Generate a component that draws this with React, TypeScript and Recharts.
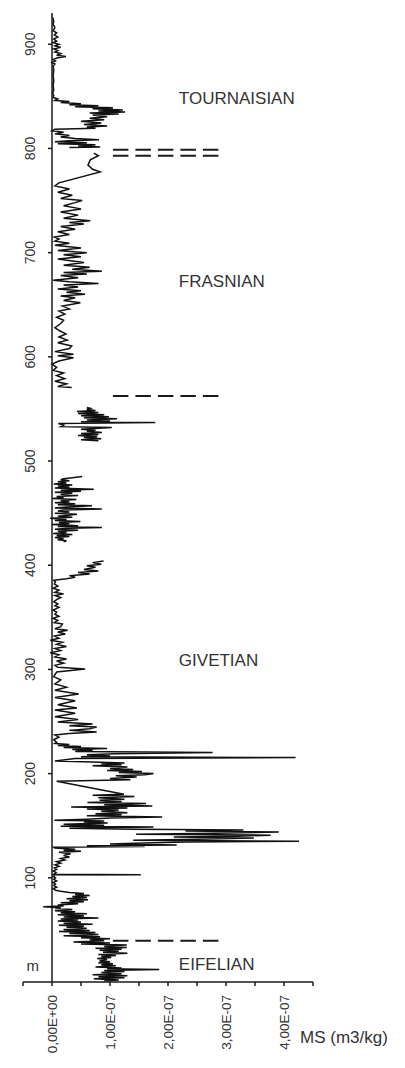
import React from 'react';
import { LineChart, Line, XAxis, YAxis, ReferenceLine, ReferenceDot } from 'recharts';

type Pt = [number, number];

// [depth (m), MS (x 1E-07 m3/kg)]
const EIFELIAN_LOG: Pt[] = [
  [1, 0.9], [2, 1.15], [3, 0.72], [4, 1.25], [5, 0.8], [6, 1.3], [7, 0.7], [8, 1.2], [9, 0.85], [10, 1.25],
  [11, 0.9], [12, 1.85], [12.6, 0.95], [13.5, 1.2], [14.5, 0.75], [15.5, 1.1], [16.5, 0.85], [17.5, 1.05],
  [18.5, 0.8], [19.5, 1.0], [20.5, 0.82], [21.5, 0.95], [22.5, 0.78], [23.5, 1.02], [24.5, 0.85], [25.5, 1.1],
  [26.5, 0.8], [27.5, 1.3], [28.5, 0.88], [29.5, 1.15], [30.5, 0.82], [31.5, 1.2], [32.3, 0.75], [33, 1.29],
  [34, 0.9], [35, 1.1], [35.5, 1.29], [36.5, 0.5], [37.5, 1.0], [38.5, 0.37], [39.5, 0.9],
];

const GIVETIAN_LOG_1: Pt[] = [
  [40.5, 0.65], [41.5, 1.0], [42.5, 0.5], [43.5, 0.83], [44.5, 0.2], [45.5, 0.8], [46.5, 0.3], [47.5, 0.75],
  [48.5, 0.12], [49.5, 0.65], [50.5, 0.2], [51.5, 0.6], [52.5, 0.25], [53.5, 0.55], [54.5, 0.12], [55.5, 0.7],
  [56.5, 0.2], [57.5, 0.5], [58.5, 0.1], [59.5, 0.45], [60.5, 0.15], [61.5, 0.8], [62.5, 0.2], [63.5, 0.55],
  [64.5, 0.1], [65.5, 0.6], [66.5, 0.15], [67.5, 0.4], [68.5, 0.05], [69.5, 0.35], [70.5, 0.05], [71.3, 0.15],
  [72.2, -0.15], [73, 0.2], [74, 0.1], [75, 0.45], [76, 0.15], [77, 0.55], [78, 0.3], [79, 0.62], [80, 0.25],
  [81, 0.6], [82, 0.35], [83, 0.65], [84, 0.4], [85, 0.55], [86, 0.3], [87, 0.15], [88, 0.06],
  [89.5, 0.02], [91, 0.08], [92.5, 0.03], [94, 0.06], [95.5, 0.02], [97, 0.08], [98.5, 0.03], [100, 0.06],
  [101.5, 0.02], [102.6, 0.05], [103, 1.53], [103.4, 0.03], [105, 0.07], [106.5, 0.02], [108, 0.08],
  [109.5, 0.04], [111, 0.12], [112.5, 0.05], [114, 0.15], [115.5, 0.08], [117, 0.22], [118.5, 0.15],
  [120, 0.3], [121.5, 0.2], [123, 0.32], [124.5, 0.12], [125.5, 0.5], [126.5, 0.2], [127.5, 0.4],
  [128.5, 0.05], [129.3, 0.03],
  [130, 1.6], [130.8, 0.6], [131.6, 2.15], [132.5, 1.0], [133.4, 1.58], [134.3, 2.3], [135.2, 4.26],
  [136, 1.4], [137, 2.5], [138.2, 3.48], [139.1, 2.1], [140, 3.2], [140.9, 3.77], [141.8, 1.45],
  [142.8, 2.8], [144, 3.91], [145, 2.3], [145.8, 3.3], [146.6, 1.42], [147.6, 0.3], [148.8, 1.75],
  [149.6, 0.15],
  [150.5, 0.9], [151.5, 0.2], [152.5, 0.96], [153.5, 0.55], [154.5, 0.9], [155.3, 0.04], [156.3, 0.6],
  [157.3, 1.0], [158.4, 1.9], [159.5, 0.6], [160.5, 1.2], [161.5, 0.75], [162.5, 1.3], [163.9, 0.85],
  [165, 1.15], [166, 0.6], [167, 1.3], [168, 0.33], [169, 1.73], [170, 0.9], [171.2, 1.62], [172.2, 0.61],
  [173.3, 1.2], [174.4, 0.82], [175.5, 1.25], [176.8, 0.8], [178, 1.42], [179.2, 0.7], [180.2, 1.24],
  [192.6, 0.08],
  [194, 1.35], [195.3, 1.0], [196.8, 1.46], [198, 1.1], [199, 1.6], [200, 1.75], [201, 1.15], [202, 1.55],
  [203, 0.95], [204, 1.4], [205, 1.0], [206.4, 1.3], [207.5, 0.7], [208.5, 1.2], [209.5, 0.85], [210.3, 1.25],
  [211.2, 0.7], [212, 0.05], [214.5, 0.4], [215.4, 4.2], [216.2, 0.5], [217, 1.0], [218, 0.6], [219, 1.1],
  [220.2, 2.77], [221.2, 0.4], [222.4, 0.7], [223.2, 0.35], [224, 0.95], [225, 0.2], [226, 0.5], [227, 0.1],
  [228, 0.3], [229, 0.05],
  [230, 0.08], [232.5, 0.03], [235, 0.12], [237, 0.05], [238.5, 0.3], [240, 0.77], [241.5, 0.3], [243, 0.65],
  [244.7, 0.77], [246, 0.3], [247.5, 0.7], [249.5, 0.1], [252, 0.45], [254.5, 0.05], [258, 0.4], [261, 0.05],
  [263, 0.43], [266, 0.1], [270, 0.4], [273, 0.05], [276.5, 0.46], [280, 0.05], [283, 0.25], [286, 0.05],
  [290, 0.15], [293, 0.03], [297.5, 0.08], [300.5, 0.57], [302, 0.1],
  [304, 0.05], [306, 0.2], [308, 0.08], [310, 0.25], [312, 0.05], [314, 0.12], [316, -0.03], [318, 0.15],
  [320, 0.05], [322, 0.25], [324, 0.08], [326, 0.18], [328, -0.03], [330, 0.12], [332, 0.04], [334, 0.23],
  [336, 0.1], [337.5, 0.27], [339, 0.05], [341, 0.15], [343.5, 0.18], [345, 0.04], [347, 0.1], [349, 0.02],
  [351, 0.12], [353, 0.05], [355, 0.08], [357, 0.02], [359.5, 0.12], [361, 0.05], [363, 0.1], [365, 0.03],
  [367, 0.08], [369, 0.15], [371, 0.05], [372.5, 0.2], [374, 0.05], [376, 0.12], [378, 0.02], [380, 0.1],
  [382, 0.04], [384, 0.06], [385.5, 0.03], [387, 0.25], [388.5, 0.4], [390, 0.3], [391.5, 0.65], [393, 0.45],
  [394.5, 0.8], [396, 0.55], [398, 0.75], [399.5, 0.6], [401, 0.85], [402.5, 0.7], [404, 0.89],
];

const GIVETIAN_LOG_2: Pt[] = [
  [422.5, 0.2], [423.5, 0.25], [424.5, 0.1], [425.5, 0.2], [426.5, 0.05], [427.5, 0.3], [428.5, 0.08],
  [429.5, 0.35], [430.5, 0.02], [431.5, 0.25], [432.5, 0.1], [433.5, 0.45], [434.5, 0.05], [435.5, 0.3],
  [436.3, 0.86], [437.2, 0.1], [438, 0.45], [439, 0.0], [440, 0.3], [441, 0.12], [442, 0.49], [443, 0.05],
  [444, 0.25], [445, -0.03], [446, 0.35], [447, 0.1], [448, 0.28], [449, 0.43], [450, 0.05], [451, 0.3],
  [452, 0.1], [453, 0.2], [453.9, 0.86], [455, 0.05], [456, 0.25], [457, 0.69], [458, 0.1], [459, 0.4],
  [460, 0.05], [461, 0.3], [462, 0.15], [463, 0.42], [464, 0.0], [465, 0.2], [466, 0.08], [467, 0.45],
  [468, 0.15], [469, 0.35], [470, 0.05], [471, 0.5], [472, 0.15], [473, 0.72], [474, 0.05], [475, 0.3],
  [476, 0.1], [477, 0.35], [478, 0.03], [479, 0.25], [480, 0.1], [481, 0.3], [482, 0.15], [483, 0.2],
  [484, 0.35], [485.2, 0.52],
];

const GIVETIAN_LOG_3: Pt[] = [
  [519.5, 0.8], [520.5, 0.5], [521.5, 0.85], [522.5, 0.55], [523.5, 0.78], [524.5, 0.45], [525.5, 0.8],
  [526.5, 0.5], [527.5, 0.86], [528.5, 0.6], [529.5, 0.75], [530.5, 0.5], [531.5, 0.8], [532.1, 1.03],
  [533, 0.15], [534.5, 0.2], [536, 0.11], [536.9, 1.78], [537.8, 0.5], [538.5, 1.0], [539.5, 0.6],
  [540.5, 1.12], [541.5, 0.55], [542.5, 0.98], [543.5, 0.5], [544.5, 0.9], [545.5, 0.45], [546.5, 0.8],
  [547.5, 0.43], [548.5, 0.75], [549.5, 0.6], [550.5, 0.66], [551.3, 0.6],
];

const FRASNIAN_LOG: Pt[] = [
  [570.5, 0.34], [571.5, 0.1], [574, 0.25], [576.5, 0.05], [579, 0.22], [582, 0.08], [584.5, 0.2], [587, 0.02],
  [590, 0.08], [593, 0.0], [596, 0.12], [599.2, 0.37], [601, 0.1], [602.4, 0.37], [605, 0.05], [608, 0.3],
  [610.4, 0.34], [613.6, 0.1], [616, 0.26], [619, 0.12], [622, 0.24], [625, 0.13], [628, 0.05], [632, 0.15],
  [635, 0.2], [638, 0.08], [641, 0.22], [644, 0.12], [646, 0.3], [648.7, 0.18], [651.9, 0.49], [654, 0.2],
  [656.7, 0.4], [658.5, 0.15], [660, 0.57], [662, 0.25], [663.5, 0.5], [665, 0.1], [667, 0.45], [669, 0.2],
  [670.5, 0.8], [672, 0.3], [673.5, 0.02], [676, 0.45], [678, 0.15], [679.5, 0.6], [681, 0.2], [682.2, 0.86],
  [684, 0.35], [686, 0.65], [688, 0.2], [690.5, 0.55], [692, 0.35], [694, 0.1], [696, 0.5], [698, 0.2],
  [700, 0.6], [702, 0.1], [704.5, 0.5], [707, 0.05], [709, 0.3], [711, 0.05], [713, 0.12], [715, 0.04],
  [717.5, 0.3], [720, 0.1], [722.5, 0.4], [725, 0.15], [727.5, 0.55], [729, 0.3], [730.5, 0.66], [733, 0.2],
  [736, 0.45], [739, 0.15], [742, 0.5], [745, 0.2], [748, 0.4], [750, 0.52], [752, 0.15], [755, 0.35],
  [758, 0.1], [761, 0.3], [764, 0.05], [767, 0.12], [777.5, 0.83], [780, 0.7], [784, 0.62], [789, 0.66],
  [793, 0.8], [795.6, 0.72],
];

const TOURNAISIAN_LOG: Pt[] = [
  [801, 0.3], [801.5, 0.83], [802.5, 0.45], [803.5, 0.75], [804.5, 0.1], [805.5, 0.6], [806.5, 0.05],
  [807.5, 0.3], [808.4, 0.81], [809.5, 0.4], [811, 0.15], [812.5, 0.3], [814, 0.05], [815.5, 0.2], [817, 0.0],
  [818.5, 0.05], [819.5, 0.75], [820.5, 0.6], [821.5, 0.95], [823, 0.55], [824.5, 0.85], [826, 0.5],
  [827.5, 0.9], [829, 0.65], [830.5, 0.95], [832, 0.7], [833, 1.15], [834, 0.65], [835, 1.26], [836, 0.8],
  [837, 1.22], [838, 0.7], [839, 1.05], [840, 0.4], [841, 0.8], [842, 0.3], [843, 0.5], [844, 0.15],
  [845, 0.3], [846, 0.05], [847.5, 0.1], [849, 0.02],
  [851, 0.03], [853, 0.01], [856, 0.03], [860, 0.02], [865, 0.03], [870, 0.02], [875, 0.03], [879, 0.02],
  [881, 0.05], [882.5, 0.0], [884, 0.06], [885.5, 0.02], [887, 0.1], [888.3, 0.24], [889.5, 0.08],
  [891, 0.15], [892.5, 0.05], [894, 0.1], [895.5, 0.03], [897, 0.15], [898.5, 0.05], [900, 0.12],
  [901.5, 0.02], [903, 0.08], [905, 0.03], [907, 0.1], [909, 0.04], [911, 0.08], [913, 0.02], [916, 0.05],
  [919, 0.02], [922, 0.03], [926, 0.01],
];

// continuous pieces of the log (the record has gaps between them)
const SEGMENTS: Pt[][] = [
  [...EIFELIAN_LOG, ...GIVETIAN_LOG_1],
  GIVETIAN_LOG_2,
  GIVETIAN_LOG_3,
  FRASNIAN_LOG,
  TOURNAISIAN_LOG,
];

const X_DOMAIN: [number, number] = [-0.5, 4.5];
const X_TICKS = [-0.5, 0, 0.5, 1, 1.5, 2, 2.5, 3, 3.5, 4, 4.5];
const X_TICK_LABELS: Record<string, string> = {
  '0': '0,00E+00',
  '1': '1,00E-07',
  '2': '2,00E-07',
  '3': '3,00E-07',
  '4': '4,00E-07',
};
const Y_DOMAIN: [number, number] = [0, 930];
const Y_TICKS = [100, 200, 300, 400, 500, 600, 700, 800, 900];

const BOUNDARY_DEPTHS = [39.7, 562.5, 793.1, 798.8];
const BOUNDARY_MS: [number, number] = [1.05, 2.9];

const STAGE_NAMES = ['TOURNAISIAN', 'FRASNIAN', 'GIVETIAN', 'EIFELIAN'];
const STAGE_DEPTHS = [848.3, 672.6, 308.6, 17.3];
const STAGE_LABEL_MS = 2.17;

const UNIT_LABEL = 'm';
const UNIT_LABEL_POS = { ms: -0.33, depth: 15.4 };
const X_LABEL = 'MS (m3/kg)';

const SEGMENT_DATA = SEGMENTS.map((seg) => seg.map(([depth, ms]) => ({ depth, ms })));

const W = 405;
const H = 1068;
const Y_AXIS_W = 20;
const MARGIN = { top: 13, right: 92, bottom: 0, left: 23 - Y_AXIS_W };
const X_AXIS_H = 86;
const PLOT_LEFT = MARGIN.left + Y_AXIS_W;
const PLOT_W = W - PLOT_LEFT - MARGIN.right;
const ZERO_X = PLOT_LEFT + (PLOT_W * (0 - X_DOMAIN[0])) / (X_DOMAIN[1] - X_DOMAIN[0]);

const FONT = '"Liberation Sans", Arial, Helvetica, sans-serif';
const INK = '#1a1a1a';
const TEXT = '#333';

const XTick = (props: any) => {
  const { x, y, payload } = props;
  const label = X_TICK_LABELS[String(payload.value)];
  if (!label) return null;
  return (
    <text
      x={x}
      y={y}
      transform={`rotate(-90 ${x} ${y})`}
      textAnchor="end"
      dominantBaseline="central"
      fontSize={13.5}
      fill={TEXT}
      fontFamily={FONT}
    >
      {label}
    </text>
  );
};

const YTick = (props: any) => {
  const { y, payload } = props;
  const tx = ZERO_X - 17;
  return (
    <g>
      <line x1={ZERO_X - 4} x2={ZERO_X} y1={y} y2={y} stroke={INK} strokeWidth={1.5} />
      <text
        x={tx}
        y={y}
        transform={`rotate(-90 ${tx} ${y})`}
        textAnchor="middle"
        fontSize={14}
        fill={TEXT}
        fontFamily={FONT}
      >
        {payload.value}
      </text>
    </g>
  );
};

export default function App() {
  return (
    <div style={{ position: 'absolute', left: 0, top: 0, width: W, height: H, background: '#fff', fontFamily: FONT }}>
      <LineChart width={W} height={H} layout="vertical" margin={MARGIN}>
        <XAxis
          type="number"
          domain={X_DOMAIN}
          ticks={X_TICKS}
          interval={0}
          height={X_AXIS_H}
          tickSize={4}
          tickMargin={9}
          tick={<XTick />}
          axisLine={{ stroke: INK, strokeWidth: 1.5 }}
          tickLine={{ stroke: INK, strokeWidth: 1.5 }}
          label={{ value: X_LABEL, position: 'right', offset: -13, dy: 12, fontSize: 17, fill: TEXT, fontFamily: FONT }}
        />
        <YAxis
          type="number"
          dataKey="depth"
          domain={Y_DOMAIN}
          reversed
          ticks={Y_TICKS}
          interval={0}
          width={Y_AXIS_W}
          axisLine={false}
          tickLine={false}
          tick={<YTick />}
        />
        <ReferenceLine x={0} stroke={INK} strokeWidth={1.5} />
        {BOUNDARY_DEPTHS.map((d) => (
          <ReferenceLine
            key={d}
            segment={[{ x: BOUNDARY_MS[0], y: d }, { x: BOUNDARY_MS[1], y: d }]}
            stroke={INK}
            strokeWidth={2}
            strokeDasharray="15.5 7"
          />
        ))}
        {STAGE_NAMES.map((name, i) => (
          <ReferenceDot
            key={name}
            x={STAGE_LABEL_MS}
            y={STAGE_DEPTHS[i]}
            r={1}
            fill="none"
            stroke="none"
            label={{ value: name, position: 'right', offset: 0, fontSize: 17, fill: TEXT, fontFamily: FONT }}
          />
        ))}
        <ReferenceDot
          x={UNIT_LABEL_POS.ms}
          y={UNIT_LABEL_POS.depth}
          r={1}
          fill="none"
          stroke="none"
          label={{ value: UNIT_LABEL, position: 'center', fontSize: 15, fill: TEXT, fontFamily: FONT }}
        />
        {SEGMENT_DATA.map((seg, i) => (
          <Line
            key={i}
            data={seg}
            dataKey="ms"
            stroke="#111"
            strokeWidth={1.5}
            dot={false}
            activeDot={false}
            isAnimationActive={false}
          />
        ))}
      </LineChart>
    </div>
  );
}
